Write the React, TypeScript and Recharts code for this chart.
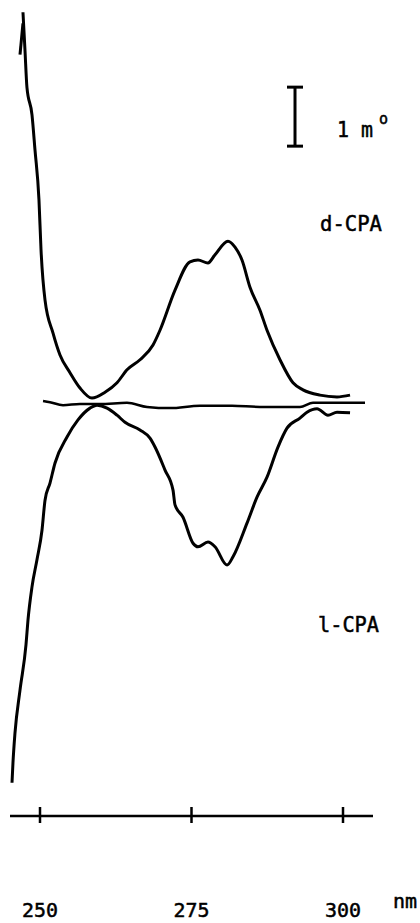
import { LineChart, Line, XAxis, YAxis, ReferenceLine } from 'recharts';

// wavelength (nm) / ellipticity (m°)
const dCpaNm = [247.19, 247.52, 247.85, 248.68, 249.17, 249.83, 250.17, 250.83, 252.15, 253.3, 254.95, 256.6, 258.58, 260.73, 262.71, 264.36, 266.5, 268.65, 269.8, 272.28, 274.75, 276.07, 277.72, 278.88, 281.02, 282.18, 283.33, 284.65, 286.3, 287.46, 289.6, 291.75, 293.4, 296.2, 299.01, 301.16];
const dCpaMdeg = [6.64, 6.0, 5.36, 4.9, 4.31, 3.46, 2.61, 1.76, 1.2, 0.83, 0.53, 0.27, 0.1, 0.2, 0.36, 0.58, 0.75, 1.0, 1.25, 1.93, 2.41, 2.44, 2.39, 2.53, 2.76, 2.66, 2.44, 1.98, 1.59, 1.25, 0.75, 0.36, 0.24, 0.15, 0.12, 0.15];

const lCpaNm = [245.38, 245.54, 245.87, 246.7, 247.69, 248.02, 248.68, 249.5, 250.33, 250.83, 251.65, 252.48, 254.46, 256.27, 258.25, 259.41, 261.06, 262.71, 264.03, 266.5, 268.15, 268.98, 270.63, 271.95, 272.28, 273.6, 275.25, 276.07, 277.72, 278.88, 280.86, 281.85, 284.16, 285.81, 287.46, 289.27, 290.76, 292.9, 294.06, 295.71, 297.52, 299.01, 301.16];
const lCpaMdeg = [-6.42, -6.08, -5.58, -4.85, -4.08, -3.66, -3.1, -2.64, -2.14, -1.63, -1.34, -1.0, -0.56, -0.27, -0.07, -0.02, -0.07, -0.19, -0.31, -0.44, -0.58, -0.73, -1.12, -1.46, -1.71, -1.92, -2.36, -2.42, -2.34, -2.42, -2.73, -2.59, -2.02, -1.58, -1.24, -0.73, -0.41, -0.24, -0.14, -0.08, -0.19, -0.14, -0.15];

const baseNm = [250.5, 251.65, 253.8, 256.6, 259.9, 264.36, 267.66, 271.45, 276.4, 281.68, 286.3, 292.9, 295.05, 299.5, 303.63];
const baseMdeg = [0.05, 0.03, -0.02, 0, 0, 0.02, -0.05, -0.07, -0.03, -0.03, -0.05, -0.05, 0.02, 0.02, 0.02];

const arrowNm = [246.7, 247.19];
const arrowMdeg = [5.92, 6.45];

const xTicks = [250, 275, 300];

const zip = (xs: number[], ys: number[]) => xs.map((x, i) => ({ x, y: ys[i] }));

const dCpa = zip(dCpaNm, dCpaMdeg);
const lCpa = zip(lCpaNm, lCpaMdeg);
const base = zip(baseNm, baseMdeg);
const arrow = zip(arrowNm, arrowMdeg);

const FONT = '"DejaVu Sans Mono", monospace';
const txt = { fontFamily: FONT, fontSize: 21, fill: '#000', stroke: '#000', strokeWidth: 0.5 };

const Tick = (props: any) => {
  const { x, y, payload } = props;
  return (
    <g>
      <line x1={x} x2={x} y1={y - 9} y2={y + 7} stroke="#000" strokeWidth={2.5} />
      <text x={x} y={y + 101} textAnchor="middle" {...txt} fontSize={20} textLength={36} lengthAdjust="spacingAndGlyphs">
        {payload.value}
      </text>
    </g>
  );
};

export default function App() {
  return (
    <div style={{ position: 'absolute', left: 0, top: 0, background: '#fff' }}>
      <LineChart width={420} height={923} margin={{ top: 0, right: 47, bottom: 0, left: 10 }}>
        <XAxis
          type="number"
          dataKey="x"
          domain={[245.05, 304.95]}
          ticks={xTicks}
          height={107}
          tickLine={false}
          tickSize={0}
          tickMargin={0}
          axisLine={{ stroke: '#000', strokeWidth: 2.5 }}
          tick={<Tick />}
          allowDataOverflow
        />
        <YAxis type="number" domain={[-6.983, 6.847]} hide allowDataOverflow />
        <Line data={base} dataKey="y" type="monotone" stroke="#000" strokeWidth={2.5} dot={false} isAnimationActive={false} />
        <Line data={dCpa} dataKey="y" type="monotone" stroke="#000" strokeWidth={3} dot={false} isAnimationActive={false} />
        <Line data={lCpa} dataKey="y" type="monotone" stroke="#000" strokeWidth={3} dot={false} isAnimationActive={false} />
        <Line data={arrow} dataKey="y" type="linear" stroke="#000" strokeWidth={3} dot={false} isAnimationActive={false} />
        {/* 1 m° scale bar */}
        <ReferenceLine segment={[{ x: 292.08, y: 4.37 }, { x: 292.08, y: 5.37 }]} stroke="#000" strokeWidth={3} />
        <ReferenceLine segment={[{ x: 290.76, y: 5.37 }, { x: 293.4, y: 5.37 }]} stroke="#000" strokeWidth={3} />
        <ReferenceLine segment={[{ x: 290.76, y: 4.37 }, { x: 293.4, y: 4.37 }]} stroke="#000" strokeWidth={3} />
        <text x={337} y={137} {...txt} textLength={36} lengthAdjust="spacingAndGlyphs">1 m</text>
        <text x={379} y={124} {...txt} fontSize={15}>o</text>
        <text x={320} y={231} {...txt} textLength={62} lengthAdjust="spacingAndGlyphs">d-CPA</text>
        <text x={318} y={632} {...txt} textLength={61} lengthAdjust="spacingAndGlyphs">l-CPA</text>
        <text x={393} y={908} {...txt} fontSize={20}>nm</text>
      </LineChart>
    </div>
  );
}
